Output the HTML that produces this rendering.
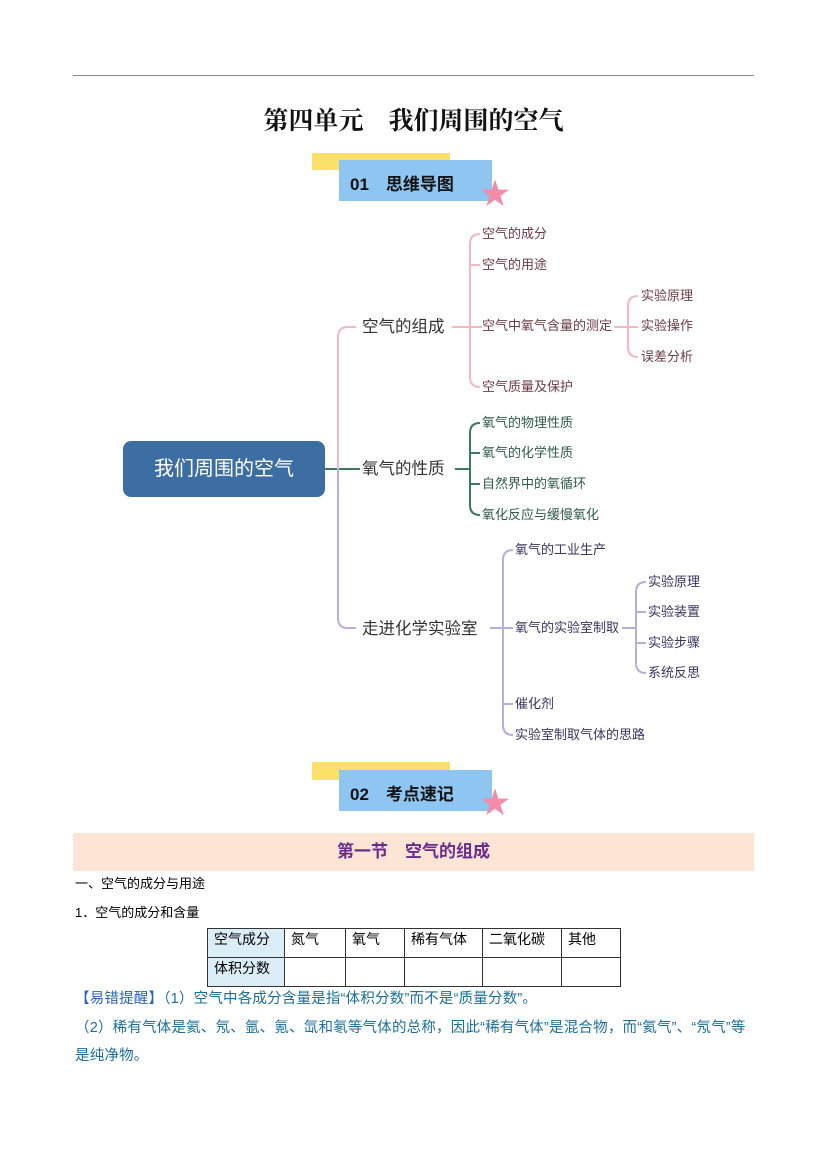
<!DOCTYPE html>
<html><head><meta charset="utf-8"><style>
body{margin:0;width:827px;height:1169px;background:#fff;position:relative;font-family:"Liberation Sans","Noto Sans CJK SC",sans-serif;overflow:hidden}
.a{position:absolute;white-space:nowrap}
.s{font-size:13px;line-height:16px;transform:translateY(-8px)}
.m{font-size:16.5px;line-height:20px;transform:translateY(-10px);color:#333}
.p{color:#6b3b45}.g{color:#2f5a4a}.v{color:#3b3560}
td{border:1px solid #333;font-size:14px;padding:0 6px;vertical-align:top;height:28px}
</style></head><body>
<div class="a" style="left:73px;top:75px;width:681px;height:1px;background:#888"></div>
<div class="a" style="left:0;width:827px;top:101px;text-align:center;font:bold 25px 'Liberation Serif','Noto Serif CJK SC',serif;color:#111">第四单元　我们周围的空气</div>

<div class="a" style="left:312px;top:153px;width:138px;height:17px;background:#fbe06a"></div>
<div class="a" style="left:339px;top:160px;width:153px;height:41px;background:#8ec5f1"></div>
<div class="a" style="left:350px;top:170px;font-weight:bold;font-size:17px;color:#111">01　思维导图</div>
<div class="a" style="left:480px;top:180px;font-size:30px;line-height:30px;color:#f48ba9">★</div>

<div class="a" style="left:123px;top:441px;width:202px;height:56px;background:#3d6ea3;border-radius:8px;color:#fff;font-size:20px;line-height:56px;text-align:center">我们周围的空气</div>

<svg class="a" style="left:0;top:0" width="827" height="1169">
<g fill="none" stroke-width="2">
<path d="M325 469H360" stroke="#3a7a5e"/>
<path d="M338 469V337Q338 327 348 327H356" stroke="#f3b8c4"/>
<path d="M338 469V618Q338 628 348 628H356" stroke="#b8addc"/>
<path d="M452 327H470M480 234Q470 234 470 244V377Q470 387 480 387M470 265H480M470 327H482" stroke="#f3b8c4"/>
<path d="M614 327H628M638 296Q628 296 628 306V347Q628 357 638 357M628 327H638" stroke="#f3b8c4"/>
<path d="M455 469H470M480 423Q470 423 470 433V505Q470 515 480 515M470 453H480M470 484H480" stroke="#3a7a5e"/>
<path d="M490 628H503M513 550Q503 550 503 560V725Q503 735 513 735M503 704H513M503 628H513" stroke="#b8addc"/>
<path d="M622 628H636M646 582Q636 582 636 592V663Q636 673 646 673M636 612H646M636 643H646" stroke="#b8addc"/>
</g></svg>

<div class="a m" style="left:362px;top:327px">空气的组成</div>
<div class="a m" style="left:362px;top:469px">氧气的性质</div>
<div class="a m" style="left:362px;top:629px">走进化学实验室</div>

<div class="a s p" style="left:482px;top:234px">空气的成分</div>
<div class="a s p" style="left:482px;top:265px">空气的用途</div>
<div class="a s p" style="left:482px;top:326px">空气中氧气含量的测定</div>
<div class="a s p" style="left:482px;top:387px">空气质量及保护</div>
<div class="a s p" style="left:641px;top:296px">实验原理</div>
<div class="a s p" style="left:641px;top:326px">实验操作</div>
<div class="a s p" style="left:641px;top:357px">误差分析</div>

<div class="a s g" style="left:482px;top:423px">氧气的物理性质</div>
<div class="a s g" style="left:482px;top:453px">氧气的化学性质</div>
<div class="a s g" style="left:482px;top:484px">自然界中的氧循环</div>
<div class="a s g" style="left:482px;top:515px">氧化反应与缓慢氧化</div>

<div class="a s v" style="left:515px;top:550px">氧气的工业生产</div>
<div class="a s v" style="left:515px;top:628px">氧气的实验室制取</div>
<div class="a s v" style="left:515px;top:704px">催化剂</div>
<div class="a s v" style="left:515px;top:735px">实验室制取气体的思路</div>
<div class="a s v" style="left:648px;top:582px">实验原理</div>
<div class="a s v" style="left:648px;top:612px">实验装置</div>
<div class="a s v" style="left:648px;top:643px">实验步骤</div>
<div class="a s v" style="left:648px;top:673px">系统反思</div>

<div class="a" style="left:312px;top:762px;width:138px;height:18px;background:#fbe06a"></div>
<div class="a" style="left:339px;top:770px;width:153px;height:41px;background:#8ec5f1"></div>
<div class="a" style="left:350px;top:780px;font-weight:bold;font-size:17px;color:#111">02　考点速记</div>
<div class="a" style="left:480px;top:789px;font-size:30px;line-height:30px;color:#f48ba9">★</div>

<div class="a" style="left:73px;top:833px;width:681px;height:38px;background:#fce5d5;text-align:center;line-height:38px;font-weight:bold;font-size:17px;color:#6a2c8c">第一节　空气的组成</div>
<div class="a" style="left:75px;top:873px;font-size:13px">一、空气的成分与用途</div>
<div class="a" style="left:75px;top:902px;font-size:13px">1．空气的成分和含量</div>
<table class="a" style="left:207px;top:928px;border-collapse:collapse;width:414px">
<tr><td style="width:64px;background:#dbeef7">空气成分</td><td style="width:48px">氮气</td><td style="width:46px">氧气</td><td style="width:65px">稀有气体</td><td style="width:66px">二氧化碳</td><td>其他</td></tr>
<tr><td style="background:#dbeef7">体积分数</td><td></td><td></td><td></td><td></td><td></td></tr>
</table>
<div class="a" style="left:75px;top:987px;font-size:14.5px;letter-spacing:0.2px;color:#1a6f9a"><span style="color:#2a62c0">【易错提醒】</span>（1）空气中各成分含量是指“体积分数”而不是“质量分数”。</div>
<div class="a" style="left:75px;top:1016px;font-size:14.5px;letter-spacing:0.2px;color:#1a6f9a">（2）稀有气体是氦、氖、氩、氪、氙和氡等气体的总称，因此“稀有气体”是混合物，而“氦气”、“氖气”等</div>
<div class="a" style="left:75px;top:1044px;font-size:14.5px;letter-spacing:0.2px;color:#1a6f9a">是纯净物。</div>
</body></html>
